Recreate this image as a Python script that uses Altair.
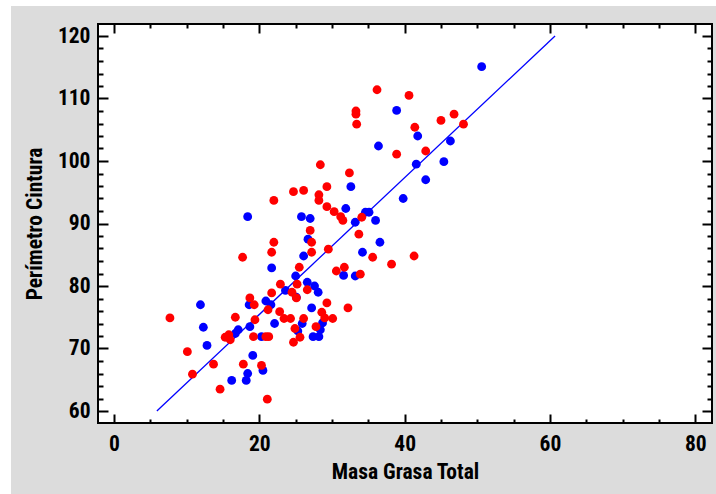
import altair as alt
import pandas as pd

# ---- data ----
blue_x = [11.9, 12.3, 12.8, 16.2, 16.7, 17.1, 18.7, 18.6, 19.1, 18.4, 18.2, 20.5, 20.3,
          20.9, 21.6, 21.7, 22.1, 23.6, 25.0, 25.1, 25.3, 25.9, 26.1, 26.6, 27.2, 27.6,
          28.1, 27.4, 28.2, 28.4, 28.7, 26.7, 18.4, 25.8, 27.0, 31.6, 33.2, 31.9, 32.6,
          33.2, 34.6, 35.1, 36.0, 34.2, 36.6, 36.4, 38.9, 41.8, 46.3, 41.6, 45.4, 42.9,
          39.8, 50.6]
blue_y = [77.0, 73.4, 70.5, 64.9, 72.4, 73.0, 73.5, 77.0, 68.9, 66.0, 64.9, 66.5, 71.9,
          77.6, 77.0, 82.9, 74.0, 79.3, 81.6, 78.2, 72.8, 74.0, 84.8, 80.6, 76.5, 80.0,
          79.0, 71.9, 71.9, 73.0, 74.1, 87.5, 91.1, 91.1, 90.8, 81.7, 81.6, 92.4, 95.9,
          90.2, 91.8, 91.8, 90.5, 85.4, 87.0, 102.4, 108.1, 104.0, 103.2, 99.5, 99.9, 97.0,
          94.0, 115.1]

red_x = [7.7, 10.1, 10.8, 13.7, 14.6, 15.3, 15.8, 16.0, 16.7, 17.7, 17.8, 18.7, 19.3,
         19.4, 19.2, 20.3, 21.1, 20.9, 21.3, 21.2, 21.7, 21.7, 22.0, 22.0, 22.9, 22.8,
         23.4, 24.3, 24.5, 25.1, 25.2, 25.5, 24.9, 24.7, 25.6, 26.1, 26.6, 27.2, 27.2,
         27.0, 27.8, 28.6, 29.3, 29.0, 30.1, 29.5, 30.6, 31.7, 32.2, 33.9, 24.7, 26.1,
         28.4, 28.2, 28.2, 29.3, 29.3, 30.3, 31.2, 31.5, 32.4, 33.3, 33.3, 33.4, 33.7,
         34.1, 35.6, 38.2, 41.3, 36.2, 40.6, 38.9, 42.9, 41.4, 45.0, 46.8, 48.1]
red_y = [74.9, 69.5, 65.9, 67.5, 63.5, 71.8, 72.2, 71.4, 75.0, 84.6, 67.5, 78.1, 77.0,
         74.6, 71.9, 67.3, 61.9, 71.9, 71.9, 76.2, 78.9, 85.4, 87.0, 93.7, 80.3, 75.9,
         74.8, 74.8, 79.0, 78.1, 80.3, 83.0, 73.2, 71.0, 71.8, 74.8, 79.4, 85.4, 87.0,
         88.9, 73.5, 75.8, 77.3, 74.9, 74.8, 85.9, 82.4, 83.0, 76.5, 81.9, 95.1, 95.3,
         99.4, 94.6, 93.7, 95.9, 92.7, 91.9, 91.1, 90.5, 98.1, 108.0, 107.5, 105.9, 88.3,
         91.0, 84.6, 83.5, 84.8, 111.4, 110.5, 101.1, 101.6, 105.4, 106.5, 107.5, 105.9]

fit_x = [5.9, 60.7]
fit_y = [60.0, 120.0]

x_labels = [0, 20, 40, 60, 80]
y_labels = [60, 70, 80, 90, 100, 110, 120]
x_minor = [0, 5, 10, 15, 20, 25, 30, 35, 40, 45, 50, 55, 60, 65, 70, 75, 80]
y_minor = [60, 62, 64, 66, 68, 70, 72, 74, 76, 78, 80, 82, 84, 86, 88, 90, 92, 94, 96,
           98, 100, 102, 104, 106, 108, 110, 112, 114, 116, 118, 120]

W, H = 614, 399
FONT = "Roboto Condensed, DejaVu Sans Condensed, Liberation Sans Narrow, Arial Narrow, Liberation Sans, sans-serif"
FS = 21.5

blue_df = pd.DataFrame({"x": blue_x, "y": blue_y})
red_df = pd.DataFrame({"x": red_x, "y": red_y})
fit_df = pd.DataFrame({"x": fit_x, "y": fit_y})

xscale = alt.Scale(domain=[-2.2, 82.3], nice=False, zero=False)
yscale = alt.Scale(domain=[58.08, 121.92], nice=False, zero=False)

x_tick = {"condition": {"test": "datum.value % 20 === 0", "value": 9}, "value": 4}
y_tick = {"condition": {"test": "datum.value % 10 === 0", "value": 10}, "value": 5}

label_axis_x = alt.Axis(orient="bottom", values=x_labels, ticks=False, domain=False, grid=False,
                        labelFont=FONT, labelFontSize=FS, labelFontWeight="bold",
                        labelColor="black", labelPadding=10,
                        titleFont=FONT, titleFontSize=FS, titleFontWeight="bold",
                        titleColor="black", titlePadding=7)
label_axis_y = alt.Axis(orient="left", values=y_labels, ticks=False, domain=False, grid=False,
                        labelFont=FONT, labelFontSize=FS, labelFontWeight="bold",
                        labelColor="black", labelPadding=8,
                        titleFont=FONT, titleFontSize=FS, titleFontWeight="bold",
                        titleColor="black", titlePadding=11)


def tick_axis(orient, offset, values, size):
    return alt.Axis(orient=orient, offset=offset, values=values, labels=False, domain=False,
                    grid=False, ticks=True, tickSize=size, tickWidth=2, tickColor="black")


blue = alt.Chart(blue_df).mark_circle(size=78, color="#0000FF", opacity=1).encode(
    x=alt.X("x:Q", scale=xscale, axis=label_axis_x, title="Masa Grasa Total"),
    y=alt.Y("y:Q", scale=yscale, axis=label_axis_y, title="Perímetro Cintura"),
)

red = alt.Chart(red_df).mark_circle(size=78, color="#FF0000", opacity=1).encode(
    x=alt.X("x:Q", scale=xscale, axis=tick_axis("top", -H, x_minor, x_tick), title=None),
    y=alt.Y("y:Q", scale=yscale, axis=tick_axis("right", -W, y_minor, y_tick), title=None),
)

fit = alt.Chart(fit_df).mark_line(color="#0000FF", strokeWidth=1.3).encode(
    x=alt.X("x:Q", scale=xscale, axis=tick_axis("bottom", -H, x_minor, x_tick), title=None),
    y=alt.Y("y:Q", scale=yscale, axis=tick_axis("left", -W, y_minor, y_tick), title=None),
)

strip_df = pd.DataFrame({"a": [0]})
strip_top = alt.Chart(strip_df).mark_rect(color="white").encode(
    x=alt.value(-98), x2=alt.value(W + 4), y=alt.value(-24), y2=alt.value(-18))
strip_left = alt.Chart(strip_df).mark_rect(color="white").encode(
    x=alt.value(-98), x2=alt.value(-87), y=alt.value(-24), y2=alt.value(H + 71))

chart = alt.layer(strip_top, strip_left, blue, fit, red).resolve_axis(
    x="independent", y="independent"
).properties(
    width=W, height=H,
    autosize=alt.AutoSizeParams(type="none"),
    padding={"left": 98, "top": 24, "right": 4, "bottom": 71},
    background="#DCDCDC",
).configure_view(
    fill="white", stroke="black", strokeWidth=2
)

chart.save("out.html", embed_options={"renderer": "svg", "actions": False})
